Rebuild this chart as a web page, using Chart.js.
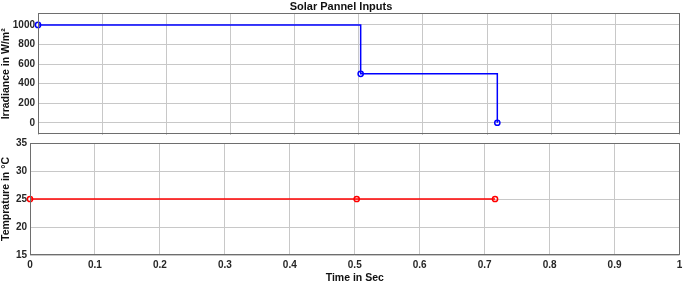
<!DOCTYPE html>
<html>
<head>
<meta charset="utf-8">
<script src="https://cdn.jsdelivr.net/npm/chart.js@4/dist/chart.umd.min.js"></script>
<style>
  body { margin: 0; background: #fff; }
  #wrap { position: relative; width: 685px; height: 283px; }
  #topChart { position: absolute; left: 0; top: 0; }
  #bottomChart { position: absolute; left: 0; top: 136px; }
</style>
</head>
<body>
<div id="wrap">
  <canvas id="topChart" width="685" height="140"></canvas>
  <canvas id="bottomChart" width="685" height="147"></canvas>
</div>
<script>
// data
var timeTicks = [0, 0.1, 0.2, 0.3, 0.4, 0.5, 0.6, 0.7, 0.8, 0.9, 1];
var irrTicks = [0, 200, 400, 600, 800, 1000];
var tempTicks = [15, 20, 25, 30, 35];
var stepTimes = [0, 0.503, 0.716];
var irradiance = [1000, 500, 0];
var temperature = [25, 25, 25];

var FONT = "'Liberation Sans', Arial, sans-serif";
var GRID = '#c8c8c8';
var TICK_COLOR = '#262626';

function points(xs, ys) {
    var out = [];
    for (var i = 0; i < xs.length; i++) {
        out.push({ x: xs[i], y: ys[i] });
    }
    return out;
}

function fixedTicks(list) {
    return function(scale) {
        scale.ticks = list.map(function(v) { return { value: v }; });
    };
}

function plain(v) {
    return String(v);
}

// draws the full box round the plot area, like matlab
var boxPlugin = {
    id: 'box',
    afterDraw: function(chart) {
        var a = chart.chartArea;
        var ctx = chart.ctx;
        ctx.save();
        ctx.strokeStyle = '#6e6e6e';
        ctx.lineWidth = 1;
        ctx.strokeRect(Math.round(a.left) + 0.5, Math.round(a.top) + 0.5,
            Math.round(a.right - a.left) - 1, Math.round(a.bottom - a.top) - 1);
        ctx.restore();
    }
};

function zeroPad(scale) {
    scale.paddingTop = 0;
    scale.paddingBottom = 0;
    scale.paddingLeft = 0;
    scale.paddingRight = 0;
}

var tickFont = { family: FONT, size: 10, weight: 'bold' };
var titleFont = { family: FONT, size: 10.5, weight: 'bold' };

new Chart(document.getElementById('topChart'), {
    type: 'line',
    data: {
        datasets: [{
            data: points(stepTimes, irradiance),
            stepped: true,
            borderColor: '#0000ff',
            borderWidth: 1.5,
            pointRadius: 2.6,
            pointBorderWidth: 1.5,
            pointBackgroundColor: 'rgba(0,0,0,0)',
            pointBorderColor: '#0000ff',
            fill: false,
            clip: 6
        }]
    },
    options: {
        responsive: false,
        animation: false,
        layout: { padding: { top: 0, right: 3, bottom: 0, left: 0 } },
        plugins: {
            legend: { display: false },
            tooltip: { enabled: false },
            title: {
                display: true,
                text: 'Solar Pannel Inputs',
                color: '#111',
                font: { family: FONT, size: 11, weight: 'bold', lineHeight: 1.2 },
                padding: { top: 0, bottom: 0 }
            }
        },
        scales: {
            x: {
                type: 'linear',
                min: 0,
                max: 1,
                afterBuildTicks: fixedTicks(timeTicks),
                afterFit: function(scale) { scale.height = 0; zeroPad(scale); },
                ticks: { display: false },
                grid: { color: GRID, drawTicks: false },
                border: { display: false }
            },
            y: {
                min: -120,
                max: 1120,
                afterBuildTicks: fixedTicks(irrTicks),
                afterFit: function(scale) { scale.width = 38; zeroPad(scale); },
                ticks: { color: TICK_COLOR, font: tickFont, padding: 3, callback: plain },
                grid: { color: GRID, drawTicks: false },
                border: { display: false },
                title: {
                    display: true,
                    text: 'Irradiance in W/m²',
                    color: '#111',
                    font: titleFont,
                    padding: 0
                }
            }
        }
    },
    plugins: [boxPlugin]
});

new Chart(document.getElementById('bottomChart'), {
    type: 'line',
    data: {
        datasets: [{
            data: points(stepTimes, temperature),
            borderColor: '#ff0000',
            borderWidth: 1.5,
            pointRadius: 2.6,
            pointBorderWidth: 1.5,
            pointBackgroundColor: 'rgba(0,0,0,0)',
            pointBorderColor: '#ff0000',
            fill: false,
            clip: 6
        }]
    },
    options: {
        responsive: false,
        animation: false,
        layout: { padding: { top: 7, right: 3, bottom: 0, left: 0 } },
        plugins: {
            legend: { display: false },
            tooltip: { enabled: false }
        },
        scales: {
            x: {
                type: 'linear',
                min: 0,
                max: 1,
                afterBuildTicks: fixedTicks(timeTicks),
                afterFit: function(scale) { scale.height = 28; zeroPad(scale); },
                ticks: {
                    color: TICK_COLOR,
                    font: tickFont,
                    padding: 4,
                    maxRotation: 0,
                    callback: plain
                },
                grid: { color: GRID, drawTicks: false },
                border: { display: false },
                title: {
                    display: true,
                    text: 'Time in Sec',
                    color: '#111',
                    font: { family: FONT, size: 10.5, weight: 'bold', lineHeight: 1 },
                    padding: 0
                }
            },
            y: {
                min: 15,
                max: 35,
                afterBuildTicks: fixedTicks(tempTicks),
                afterFit: function(scale) { scale.width = 30; zeroPad(scale); },
                ticks: { color: TICK_COLOR, font: tickFont, padding: 3, callback: plain },
                grid: { color: GRID, drawTicks: false },
                border: { display: false },
                title: {
                    display: true,
                    text: 'Temprature in °C',
                    color: '#111',
                    font: titleFont,
                    padding: 0
                }
            }
        }
    },
    plugins: [boxPlugin]
});
</script>
</body>
</html>
